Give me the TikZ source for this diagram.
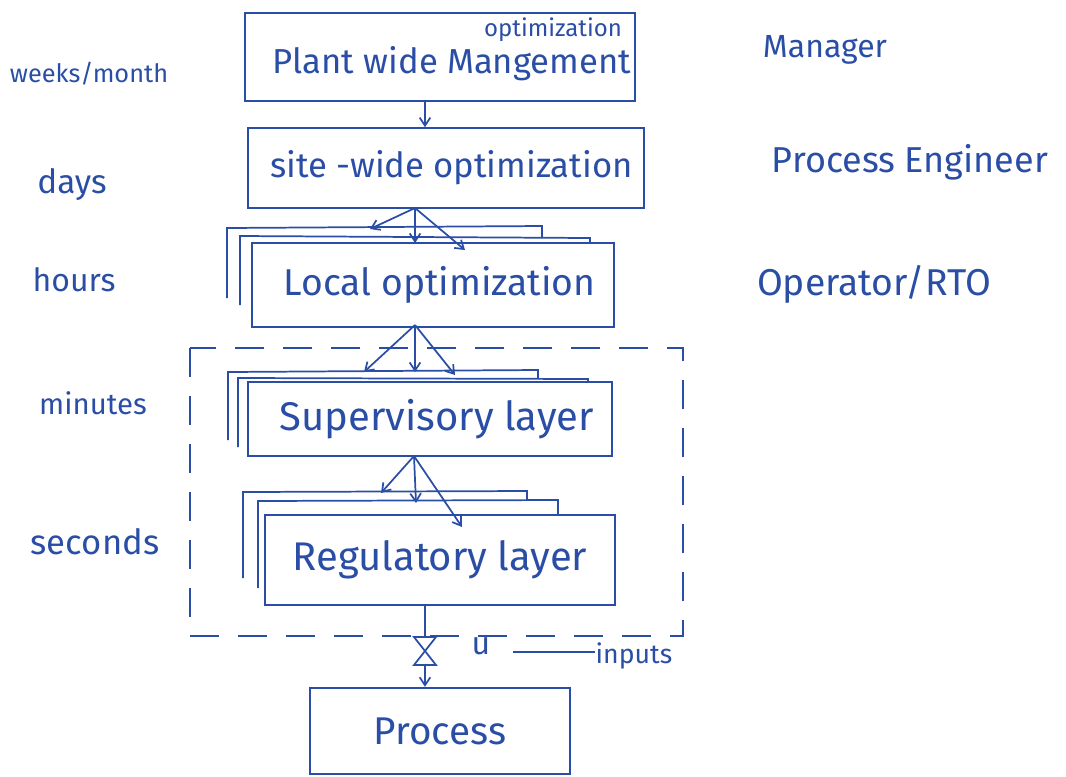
\documentclass[tikz,border=0pt]{standalone}
\usepackage{fontspec}
\setmainfont{Fira Sans}
\usetikzlibrary{arrows.meta}
\definecolor{ink}{RGB}{42,78,165}
\tikzset{
  ink/.style={draw=ink, line width=1.3pt},
  fs/.style={font=\fontsize{#1}{#1}\selectfont},
  layerbox/.style={ink, fill=white, rectangle, inner sep=0pt, text=ink},
  side/.style={text=ink, inner sep=0pt},
  arr/.style={ink, -{Straight Barb[length=6pt,width=8pt]}},
  backbox/.style={ink, fill=white},
  dashbox/.style={ink, dash pattern=on 22pt off 14pt}
}
\begin{document}
\begin{tikzpicture}[x=0.75pt,y=-0.75pt]
\useasboundingbox (0,0) rectangle (1066,776);
% dashed group
\draw[dashbox] (190,348) rectangle (683,636);
% top boxes
\node[layerbox, minimum width=292.5pt, minimum height=66pt] (plant) at (440,57) {};
\node[side, fs=26] (plantlbl) at (452,64) {Plant wide Mangement};
\node[side, fs=18] (opt) at (553,30) {optimization};
\node[layerbox, minimum width=297pt, minimum height=60pt, fs=26] (site) at (446,168) {\hspace{8pt}site -wide optimization};
\draw[arr] (plant.south -| 425,0) -- (site.north -| 425,0);
% local optimization stack
\draw[backbox] (227,298) -- (227,228) -- (542,226) -- (542,243);
\draw[backbox] (240,305) -- (240,236) -- (590,238) -- (590,243);
\node[layerbox, minimum width=272pt, minimum height=63pt, fs=28] (local) at (433,285) {\hspace{10pt}Local optimization};
\coordinate (s1) at (415,208);
\coordinate (l1) at (370,229);
\coordinate (l2) at (415,243);
\coordinate (l3) at (465,250);
\draw[arr] (s1) -- (l1);
\draw[arr] (s1) -- (l2);
\draw[arr] (s1) -- (l3);
% supervisory stack
\draw[backbox] (228,440) -- (228,372) -- (538,370) -- (538,382);
\draw[backbox] (238,447) -- (238,378) -- (588,379) -- (588,382);
\node[layerbox, minimum width=273pt, minimum height=55pt, fs=30] (sup) at (430,419) {\hspace{10pt}Supervisory layer};
\coordinate (lo) at (415,325);
\coordinate (p1) at (364,372);
\coordinate (p2) at (415,372);
\coordinate (p3) at (455,375);
\draw[arr] (lo) -- (p1);
\draw[arr] (lo) -- (p2);
\draw[arr] (lo) -- (p3);
% regulatory stack
\draw[backbox] (243,578) -- (243,492) -- (527,491) -- (527,515);
\draw[backbox] (258,588) -- (258,501) -- (558,500) -- (558,515);
\node[layerbox, minimum width=262.5pt, minimum height=67.5pt, fs=30] (reg) at (440,560) {Regulatory layer};
\coordinate (su) at (414,456);
\coordinate (r1) at (381,493);
\coordinate (r2) at (416,503);
\coordinate (r3) at (462,527);
\draw[arr] (su) -- (r1);
\draw[arr] (su) -- (r2);
\draw[arr] (su) -- (r3);
% process
\node[layerbox, minimum width=195pt, minimum height=65pt, fs=29] (proc) at (440,731) {Process};
\draw[arr] (reg.south -| 425,0) -- (proc.north -| 425,0);
\coordinate (v) at (425,651);
\draw[ink, fill=white] ([shift={(-11,-14)}]v) -- ([shift={(11,-14)}]v) -- ([shift={(-11,14)}]v) -- ([shift={(11,14)}]v) -- cycle;
\node[side, fs=24] (u) at (481,646) {u};
\node[side, fs=20] (inp) at (634,656) {inputs};
\draw[ink] (513,652) -- (inp.west |- 513,652);
% left labels
\node[side, fs=19] (t1) at (89,74) {weeks/month};
\node[side, fs=25] (t2) at (72,185) {days};
\node[side, fs=24] (t3) at (74,280) {hours};
\node[side, fs=22] (t4) at (93,403) {minutes};
\node[side, fs=26] (t5) at (95,542) {seconds};
% right labels
\node[side, fs=24] (r1t) at (825,50) {Manager};
\node[side, fs=27] (r2t) at (910,162) {Process Engineer};
\node[side, fs=28] (r3t) at (874,284) {Operator/RTO};
\end{tikzpicture}
\end{document}
